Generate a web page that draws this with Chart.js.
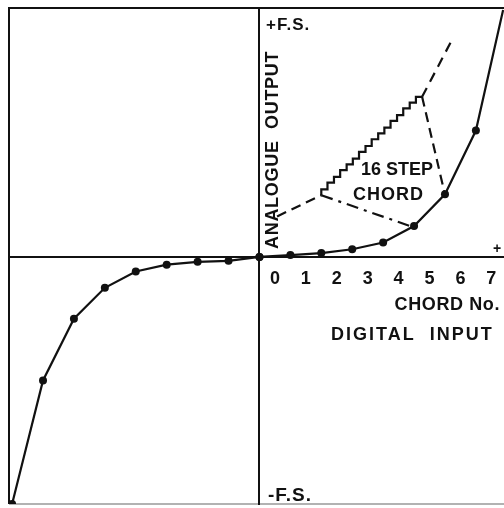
<!DOCTYPE html>
<html><head><meta charset="utf-8">
<script src="https://cdn.jsdelivr.net/npm/chart.js@4"></script>
<style>html,body{margin:0;padding:0;background:#fff;overflow:hidden}#wrap{width:520px;height:508px;position:relative}</style>
</head><body><div id="wrap"><canvas id="c"></canvas></div>
<script>
// Tick labels of the digital input (chord numbers), centred in each chord
const chordTickPos = [0.5, 1.5, 2.5, 3.5, 4.5, 5.5, 6.5, 7.5];
const chordTickLabels = ['0', '1', '2', '3', '4', '5', '6', '7'];

// Positive half of the characteristic (chord end points)
const posChordX = [0, 1, 2, 3, 4, 5, 6, 7, 7.88];
const posOutput = [0, 2, 4, 8, 15, 32, 65, 131, 256];

// Negative half
const negChordX = [0, -1, -2, -3, -4, -5, -6, -7, -8];
const negOutput = [0, -4, -5, -8, -15, -32, -64, -128, -256];

// Enlarged 16 step chord (staircase corners)
const stepX = [2.0, 2.2, 2.41, 2.61, 2.82, 3.02, 3.22, 3.43, 3.63, 3.84, 4.04, 4.24, 4.45, 4.65, 4.86, 5.06, 5.26];
const stepY = [64, 70, 77, 83, 90, 96, 102, 109, 115, 122, 128, 134, 141, 147, 154, 160, 166];

// Dashed construction lines
const leadInX = [0.57, 2.0],  leadInY = [42, 64];
const leadOutX = [5.26, 6.26], leadOutY = [166, 227];
const projLowX = [2.0, 4.84], projLowY = [64, 32.4];
const projHighX = [5.26, 6.0], projHighY = [166, 64.7];

const pts = (xs, ys) => xs.map((x, i) => ({x: x, y: ys[i]}));
const INK = '#111';
const FONT = '"Liberation Sans", Arial, sans-serif';

const lastIdx = posChordX.length - 1;

const textPlugin = {
  id: 'annot',
  beforeDraw(chart) {
    const {ctx, chartArea: a} = chart;
    ctx.save();
    ctx.strokeStyle = INK;
    ctx.lineWidth = 2;
    ctx.beginPath();
    ctx.moveTo(a.right + 5, a.top);
    ctx.lineTo(a.left, a.top);
    ctx.lineTo(a.left, a.bottom);
    ctx.stroke();
    ctx.strokeStyle = '#999';
    ctx.lineWidth = 1.5;
    ctx.beginPath();
    ctx.moveTo(a.left, a.bottom);
    ctx.lineTo(a.right + 5, a.bottom);
    ctx.stroke();
    ctx.restore();
  },
  afterDraw(chart) {
    const ctx = chart.ctx;
    ctx.save();
    ctx.fillStyle = INK;
    ctx.textBaseline = 'alphabetic';
    const put = (t, x, y, size, align, sp) => {
      ctx.font = 'bold ' + size + 'px ' + FONT;
      ctx.letterSpacing = (sp || 0) + 'px';
      ctx.textAlign = align || 'left';
      ctx.fillText(t, x, y);
    };
    put('+F.S.', 266, 30, 17, 'left', 1);
    put('-F.S.', 268, 501, 19, 'left', 1);
    put('16 STEP', 361, 175, 18, 'left', 0);
    put('CHORD', 353, 200, 18, 'left', 1);
    put('CHORD No.', 500, 310, 18, 'right', 0.6);
    put('DIGITAL  INPUT', 331, 340, 18, 'left', 2);
    put('+', 497, 253, 14, 'center', 0);
    ctx.save();
    ctx.translate(278, 249);
    ctx.rotate(-Math.PI / 2);
    put('ANALOGUE  OUTPUT', 0, 0, 18, 'left', 0.7);
    ctx.restore();
    ctx.restore();
  }
};

const dashed = (data, dash) => ({
  data: data, showLine: true, borderColor: INK, borderWidth: 2.2,
  borderDash: dash, pointRadius: 0, fill: false, tension: 0
});

new Chart(document.getElementById('c'), {
  type: 'scatter',
  data: {
    datasets: [
      {
        data: pts(posChordX, posOutput), showLine: true, borderColor: INK, borderWidth: 2.2,
        backgroundColor: INK, pointBorderWidth: 0,
        pointRadius: (c) => c.dataIndex === lastIdx ? 0 : 4
      },
      {
        data: pts(negChordX, negOutput), showLine: true, borderColor: INK, borderWidth: 2.2,
        backgroundColor: INK, pointBorderWidth: 0, pointRadius: 4
      },
      {
        data: pts(stepX, stepY), showLine: true, stepped: 'after', borderColor: INK,
        borderWidth: 2.2, pointRadius: 0
      },
      dashed(pts(leadInX, leadInY), [10, 6]),
      dashed(pts(leadOutX, leadOutY), [10, 7]),
      dashed(pts(projLowX, projLowY), [12, 6, 3, 6]),
      dashed(pts(projHighX, projHighY), [10, 6])
    ]
  },
  options: {
    responsive: true, maintainAspectRatio: false, animation: false,
    layout: {padding: {left: 9, top: 8, right: 7, bottom: 2}},
    plugins: {legend: {display: false}, tooltip: {enabled: false}},
    scales: {
      x: {
        type: 'linear', min: -8.1, max: 8.2, position: {y: 0},
        grid: {display: false, drawTicks: false},
        border: {display: true, color: INK, width: 2},
        afterBuildTicks: (s) => { s.ticks = chordTickPos.map(v => ({value: v})); },
        ticks: {
          color: INK, padding: 11, maxRotation: 0, autoSkip: false,
          font: {family: FONT, size: 18, weight: 'bold'},
          callback: (v, i) => chordTickLabels[i]
        }
      },
      y: {
        type: 'linear', min: -256, max: 258, position: {x: 0},
        grid: {display: false, drawTicks: false},
        border: {display: true, color: INK, width: 2},
        ticks: {display: false}
      }
    }
  },
  plugins: [textPlugin]
});
</script>
</body></html>
